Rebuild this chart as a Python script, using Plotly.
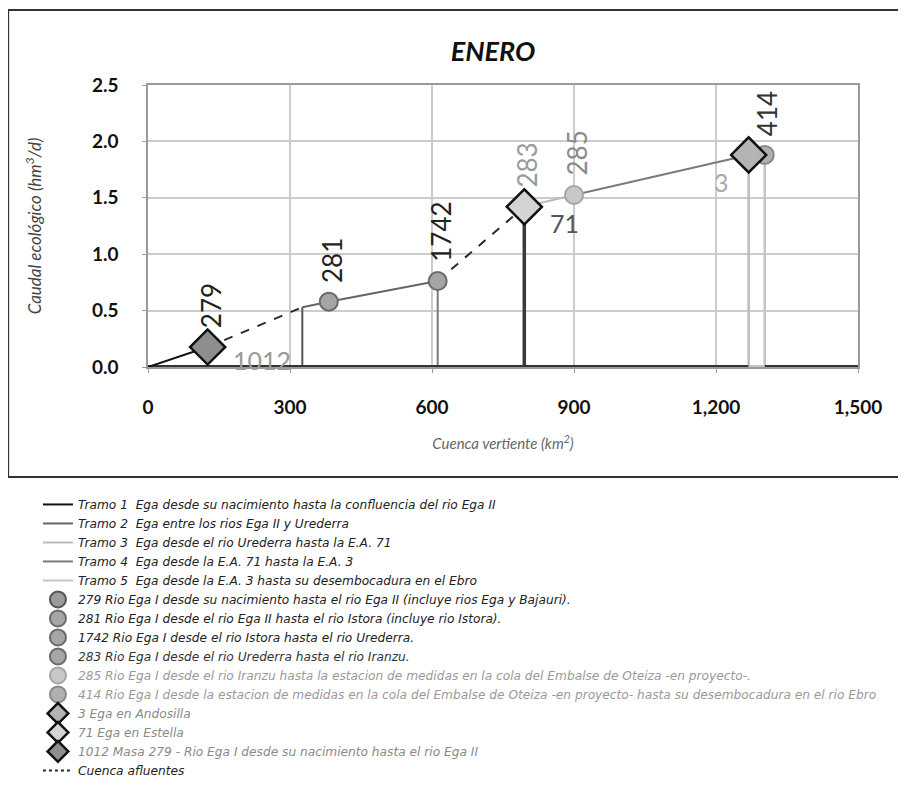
import plotly.graph_objects as go

# ---------------- data ----------------
x_ticks = [0, 300, 600, 900, 1200, 1500]
x_tick_labels = ["0", "300", "600", "900", "1,200", "1,500"]
y_ticks = [0.0, 0.5, 1.0, 1.5, 2.0, 2.5]
y_tick_labels = ["0.0", "0.5", "1.0", "1.5", "2.0", "2.5"]

tramo1_x = [0, 126]
tramo1_y = [0.0, 0.177]
tramo2_x = [326, 382, 612]
tramo2_y = [0.53, 0.579, 0.762]
tramo3_x = [795, 900]
tramo3_y = [1.42, 1.525]
tramo4_x = [900, 1269]
tramo4_y = [1.525, 1.88]
cuenca1_x = [126, 326]
cuenca1_y = [0.177, 0.53]
cuenca2_x = [612, 795]
cuenca2_y = [0.762, 1.42]

vert_x = [326, 612, 795, 1269, 1303]
vert_top = [0.53, 0.762, 1.42, 1.88, 1.88]
vert_colors = ["#555555", "#7a7a7a", "#3a3a3a", "#bdbdbd", "#c4c4c4"]
vert_widths = [2, 2, 3.5, 2.5, 2.5]

masa_codes = ["279", "281", "1742", "283", "285", "414"]
masa_x = [126, 382, 612, 795, 900, 1303]
masa_y = [0.177, 0.579, 0.762, 1.42, 1.525, 1.88]
masa_names = [
    "279 Rio Ega I desde su nacimiento hasta el rio Ega II (incluye rios Ega y Bajauri).",
    "281 Rio Ega I desde el rio Ega II hasta el rio Istora (incluye rio Istora).",
    "1742 Rio Ega I desde el rio Istora hasta el rio Urederra.",
    "283 Rio Ega I desde el rio Urederra hasta el rio Iranzu.",
    "285 Rio Ega I desde el rio Iranzu hasta la estacion de medidas en la cola del Embalse de Oteiza -en proyecto-.",
    "414 Rio Ega I desde la estacion de medidas en la cola del Embalse de Oteiza -en proyecto- hasta su desembocadura en el rio Ebro",
]
masa_fill = ["#9a9a9a", "#a6a6a6", "#a6a6a6", "#a6a6a6", "#c8c8c8", "#b0b0b0"]
masa_line = ["#555555", "#6a6a6a", "#6a6a6a", "#6a6a6a", "#a5a5a5", "#8a8a8a"]
masa_label_color = ["#222222", "#222222", "#222222", "#9a9a9a", "#8a8a8a", "#333333"]
masa_text_color = ["#222222", "#222222", "#222222", "#333333", "#9a9a9a", "#9a9a9a"]

estacion_codes = ["3", "71", "1012"]
estacion_x = [1269, 795, 126]
estacion_y = [1.88, 1.42, 0.177]
estacion_names = [
    "3 Ega en Andosilla",
    "71 Ega en Estella",
    "1012 Masa 279 - Rio Ega I desde su nacimiento hasta el rio Ega II",
]
estacion_fill = ["#b4b4b4", "#d4d4d4", "#8e8e8e"]
estacion_label_color = ["#aaaaaa", "#555555", "#9a9a9a"]

tramo_names = [
    "Tramo 1  Ega desde su nacimiento hasta la confluencia del rio Ega II",
    "Tramo 2  Ega entre los rios Ega II y Urederra",
    "Tramo 3  Ega desde el rio Urederra hasta la E.A. 71",
    "Tramo 4  Ega desde la E.A. 71 hasta la E.A. 3",
    "Tramo 5  Ega desde la E.A. 3 hasta su desembocadura en el Ebro",
]
tramo_colors = ["#111111", "#666666", "#bbbbbb", "#7a7a7a", "#c4c4c4"]

FONT = "Lato"

fig = go.Figure()

# ---- vertical tributary / reach lines ----
for vx, vt, vc, vw in zip(vert_x, vert_top, vert_colors, vert_widths):
    fig.add_trace(go.Scatter(x=[vx, vx], y=[0, vt], mode="lines",
                             line=dict(color=vc, width=vw),
                             showlegend=False, hoverinfo="skip"))

# ---- baseline along zero ----
fig.add_trace(go.Scatter(x=[0, 1269], y=[0, 0], mode="lines",
                         line=dict(color="#333333", width=4),
                         showlegend=False, hoverinfo="skip"))
fig.add_trace(go.Scatter(x=[1269, 1303], y=[0, 0], mode="lines",
                         line=dict(color="#c4c4c4", width=4),
                         showlegend=False, hoverinfo="skip"))
fig.add_trace(go.Scatter(x=[1303, 1500], y=[0, 0], mode="lines",
                         line=dict(color="#333333", width=4),
                         showlegend=False, hoverinfo="skip"))

# ---- tramo lines (legend) ----
tramo_xs = [tramo1_x, tramo2_x, tramo3_x, tramo4_x, [None]]
tramo_ys = [tramo1_y, tramo2_y, tramo3_y, tramo4_y, [None]]
for name, col, tx, ty in zip(tramo_names, tramo_colors, tramo_xs, tramo_ys):
    fig.add_trace(go.Scatter(x=tx, y=ty, mode="lines",
                             line=dict(color=col, width=2),
                             name=f'<span style="color:#222">{name}</span>',
                             hoverinfo="skip"))

# ---- cuenca afluentes dashed ----
fig.add_trace(go.Scatter(x=cuenca1_x, y=cuenca1_y, mode="lines",
                         line=dict(color="#2a2a2a", width=2, dash="dash"),
                         showlegend=False, hoverinfo="skip"))
fig.add_trace(go.Scatter(x=cuenca2_x, y=cuenca2_y, mode="lines",
                         line=dict(color="#2a2a2a", width=2, dash="dash"),
                         showlegend=False, hoverinfo="skip"))

# ---- masas (circles) ----
for i in range(len(masa_codes)):
    fig.add_trace(go.Scatter(
        x=[masa_x[i]], y=[masa_y[i]], mode="markers",
        marker=dict(symbol="circle", size=18, color=masa_fill[i],
                    line=dict(color=masa_line[i], width=2)),
        name=f'<span style="color:{masa_text_color[i]}">{masa_names[i]}</span>',
        hoverinfo="skip"))

# ---- estaciones (diamonds) ----
for i in range(len(estacion_codes)):
    fig.add_trace(go.Scatter(
        x=[estacion_x[i]], y=[estacion_y[i]], mode="markers",
        marker=dict(symbol="diamond", size=27, color=estacion_fill[i],
                    line=dict(color="#111111", width=2.5)),
        name=f'<span style="color:#8a8a8a">{estacion_names[i]}</span>',
        hoverinfo="skip"))

# legend-only entry for cuenca afluentes
fig.add_trace(go.Scatter(x=[None], y=[None], mode="lines",
                         line=dict(color="#2a2a2a", width=2, dash="dot"),
                         name='<span style="color:#222">Cuenca afluentes</span>'))

# ---- rotated masa labels ----
for i in range(len(masa_codes)):
    fig.add_annotation(x=masa_x[i], y=masa_y[i], text=masa_codes[i],
                       textangle=-90, showarrow=False, xanchor="center",
                       yanchor="bottom", xshift=3, yshift=17,
                       font=dict(family=FONT, size=26, color=masa_label_color[i]))

# ---- estacion labels ----
est_shift = [(-27, -27), (40, -16), (54, -13)]
for i in range(len(estacion_codes)):
    fig.add_annotation(x=estacion_x[i], y=estacion_y[i], text=estacion_codes[i],
                       showarrow=False, xshift=est_shift[i][0], yshift=est_shift[i][1],
                       font=dict(family=FONT, size=25, color=estacion_label_color[i]))

# ---- outer frame ----
fig.add_shape(type="rect", xref="paper", yref="paper",
              x0=-0.197, x1=1.1, y0=-0.39, y1=1.266,
              line=dict(color="#333333", width=2), layer="below")

fig.update_layout(
    width=906, height=785,
    margin=dict(l=140, r=56, t=77, b=426, autoexpand=False),
    paper_bgcolor="white", plot_bgcolor="white",
    title=dict(text="<b><i>ENERO</i></b>", x=(493 - 148) / 710, xref="paper",
               xanchor="center", y=1 - 44 / 785, yanchor="middle",
               font=dict(family=FONT, size=27, color="#111111")),
    showlegend=True,
    legend=dict(x=-0.155, y=-0.436, xanchor="left", yanchor="top",
                font=dict(family="DejaVu Sans", size=12.2, style="italic", color="#222"),
                bgcolor="rgba(0,0,0,0)", tracegroupgap=0, itemwidth=30),
    xaxis=dict(range=[0, 1500], tickvals=x_ticks, ticktext=x_tick_labels,
               showgrid=True, gridcolor="#cccccc", gridwidth=1.5,
               zeroline=False, showline=True, linecolor="#9a9a9a", mirror=True,
               linewidth=1.5, ticks="outside", ticklen=4, tickcolor="#9a9a9a",
               ticklabelstandoff=18,
               tickfont=dict(family=FONT, size=19, weight="bold", color="#111111"),
               title=dict(text="<i>Cuenca vertiente (km<sup>2</sup>)</i>",
                          font=dict(family=FONT, size=15, color="#666666"),
                          standoff=22)),
    yaxis=dict(range=[0, 2.5], tickvals=y_ticks, ticktext=y_tick_labels,
               showgrid=True, gridcolor="#cccccc", gridwidth=1.5,
               zeroline=False, showline=True, linecolor="#9a9a9a", mirror=True,
               linewidth=1.5, ticks="outside", ticklen=4, tickcolor="#9a9a9a",
               ticklabelstandoff=20,
               tickfont=dict(family=FONT, size=19, weight="bold", color="#111111"),
               title=dict(text="<i>Caudal ecológico (hm<sup>3</sup>/d)</i>",
                          font=dict(family=FONT, size=17, color="#444444"),
                          standoff=46)),
)

fig.write_html("out.html")
